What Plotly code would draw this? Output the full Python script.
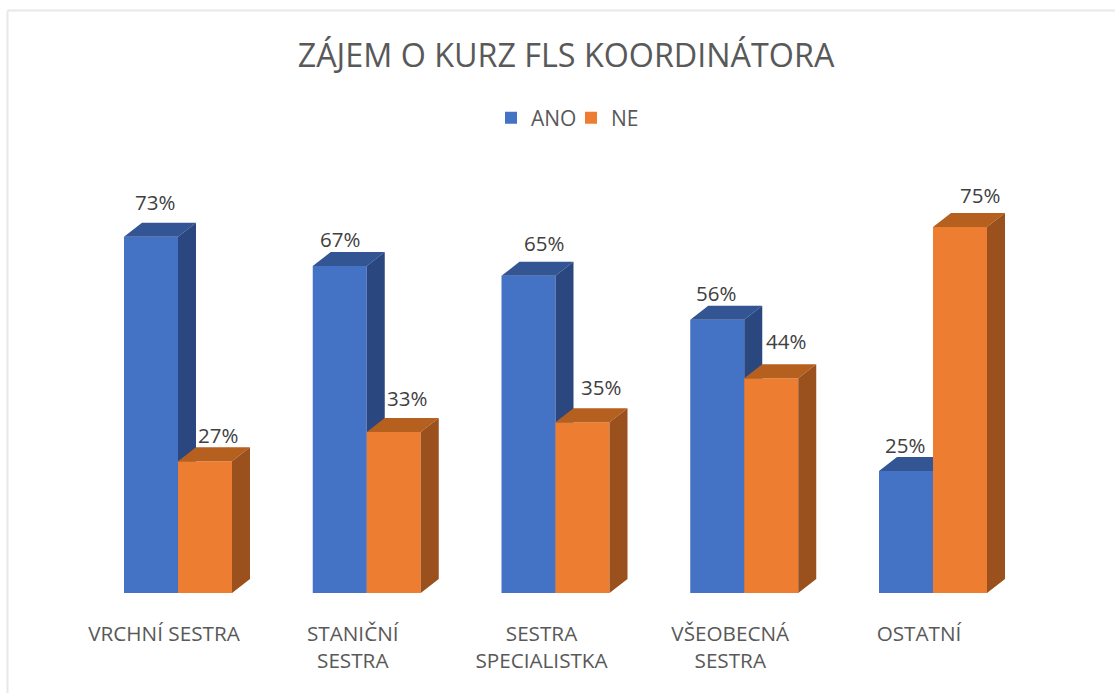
import plotly.graph_objects as go

# --- data ---
categories = ["VRCHNÍ SESTRA", "STANIČNÍ<br>SESTRA", "SESTRA<br>SPECIALISTKA", "VŠEOBECNÁ<br>SESTRA", "OSTATNÍ"]
ano_values = [73, 67, 65, 56, 25]
ne_values = [27, 33, 35, 44, 75]
title_text = "ZÁJEM O KURZ FLS KOORDINÁTORA"

# --- styling / geometry ---
W, H = 1115, 693
FONT = "Open Sans"
PX_PER_CAT = 188.75
PX_PER_UNIT = 4.88
BASE_PX = 593
FIRST_CENTER_PX = 178
BAR_W = 54 / PX_PER_CAT
DX = 18 / PX_PER_CAT
DY = 14 / PX_PER_UNIT
x_range = [-FIRST_CENTER_PX / PX_PER_CAT, (W - FIRST_CENTER_PX) / PX_PER_CAT]
y_range = [0, BASE_PX / PX_PER_UNIT]
idx = list(range(len(categories)))

ANO_C = dict(front="#4472C4", top="#335594", side="#2A4780")
NE_C = dict(front="#ED7D31", top="#B5601F", side="#9A511D")
# label offsets in px relative to the centre of the bar's front top edge
ano_label_off = [(4, 35), (0, 27), (15, 33), (-1, 27), (-1, 26)]
ne_label_off = [(13, 26), (13, 34), (18, 35), (15, 37), (20, 32)]


def faces(centers, values, left, kind):
    xs, ys = [], []
    for c, v in zip(centers, values):
        x0 = c + left
        x1 = x0 + BAR_W
        if kind == "top":
            xs += [x0, x1, x1 + DX, x0 + DX, x0, None]
            ys += [v, v, v + DY, v + DY, v, None]
        else:
            xs += [x1, x1 + DX, x1 + DX, x1, x1, None]
            ys += [0, DY, v + DY, v, 0, None]
    return xs, ys


def add_series(fig, name, values, left, colors, xa, ya):
    fig.add_trace(go.Bar(x=idx, y=values, name=name, width=BAR_W, offset=left,
                         marker=dict(color=colors["front"], line=dict(width=0)),
                         xaxis=xa, yaxis=ya, hoverinfo="skip"))
    for kind in ("top", "side"):
        xs, ys = faces(idx, values, left, kind)
        fig.add_trace(go.Scatter(x=xs, y=ys, mode="lines", fill="toself", fillcolor=colors[kind],
                                 line=dict(width=0, color=colors[kind]), showlegend=False,
                                 xaxis=xa, yaxis=ya, hoverinfo="skip"))


fig = go.Figure()
add_series(fig, "ANO", ano_values, -BAR_W, ANO_C, "x", "y")
add_series(fig, "NE", ne_values, 0, NE_C, "x2", "y2")

annotations = []
for series, left, offs in ((ano_values, -BAR_W / 2, ano_label_off), (ne_values, BAR_W / 2, ne_label_off)):
    for i, v, (ox, oy) in zip(idx, series, offs):
        annotations.append(dict(x=i + left, y=v, xref="x", yref="y", text=f"{v}%", showarrow=False,
                                xshift=ox, yshift=oy, xanchor="center", yanchor="middle",
                                font=dict(family=FONT, size=20.5, color="#404040")))

frame = dict(color="#E8E8E8", width=2)
shapes = [
    dict(type="line", xref="paper", yref="paper", x0=7.5 / W, x1=7.5 / W, y0=0, y1=1 - 10.5 / H, line=frame),
    dict(type="line", xref="paper", yref="paper", x0=7.5 / W, x1=1, y0=1 - 10.5 / H, y1=1 - 10.5 / H, line=frame),
]

y_domain = [1 - BASE_PX / H, 1]
fig.update_layout(
    width=W, height=H, autosize=False,
    margin=dict(l=0, r=0, t=0, b=0, pad=0),
    paper_bgcolor="white", plot_bgcolor="white",
    showlegend=True, barmode="overlay",
    title=dict(text=title_text, x=566 / W, xanchor="center", y=1 - 56 / H, yanchor="middle",
               font=dict(family=FONT, size=32.3, color="#595959")),
    legend=dict(orientation="h", x=491 / W, xanchor="left", y=1 - 118 / H, yanchor="middle",
                entrywidth=35, entrywidthmode="pixels",
                font=dict(family=FONT, size=21, color="#595959"), bgcolor="rgba(0,0,0,0)"),
    xaxis=dict(range=x_range, domain=[0, 1], tickmode="array",
               tickvals=[i - 14 / PX_PER_CAT for i in idx], ticktext=categories,
               showgrid=False, zeroline=False, showline=False, ticks="",
               ticklabelstandoff=26, tickangle=0,
               tickfont=dict(family=FONT, size=20.7, color="#595959")),
    yaxis=dict(range=y_range, domain=y_domain, visible=False, showgrid=False, zeroline=False),
    xaxis2=dict(range=x_range, domain=[0, 1], overlaying="x", visible=False, anchor="y2"),
    yaxis2=dict(range=y_range, domain=y_domain, overlaying="y", visible=False, anchor="x2"),
    annotations=annotations, shapes=shapes,
)

fig.write_html("out.html", config=dict(displayModeBar=False),
               post_script="document.body.style.margin='0';")
